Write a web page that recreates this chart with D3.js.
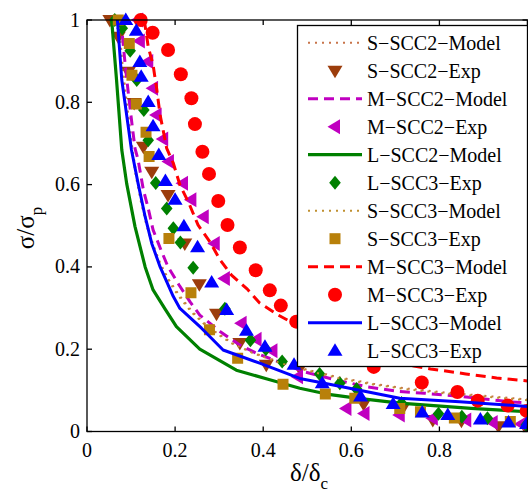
<!DOCTYPE html>
<html>
<head>
<meta charset="utf-8">
<script src="https://cdn.jsdelivr.net/npm/d3@7"></script>
<style>
  body { margin: 0; background: #fff; }
  svg { display: block; }
  svg text { font-family: "Times New Roman", Times, "Liberation Serif", "DejaVu Serif", "Noto Serif", serif; }
</style>
</head>
<body>
<svg width="528" height="493"></svg>
<script>
// ---- data (x = delta/delta_c, y = sigma/sigma_p) ----
const xTicks = [0, 0.2, 0.4, 0.6, 0.8];
const yTicks = [0, 0.2, 0.4, 0.6, 0.8, 1];

// model curves
const sScc2ModelX = [0.072,0.080,0.088,0.096,0.104,0.113,0.124,0.136,0.150,0.166,0.185,0.21,0.24,0.28,0.33,0.38,0.44,0.50,0.57,0.65,0.73,0.82,0.91,1.0];
const sScc2ModelY = [1.0,0.90,0.82,0.75,0.68,0.62,0.56,0.505,0.455,0.41,0.37,0.33,0.29,0.25,0.215,0.19,0.168,0.15,0.132,0.116,0.104,0.094,0.086,0.078];
const mScc2ModelX = [0.077,0.086,0.093,0.101,0.109,0.116,0.128,0.139,0.150,0.168,0.184,0.209,0.234,0.256,0.302,0.347,0.385,0.438,0.49,0.566,0.634,0.710,0.766,0.850,0.963,1.0];
const mScc2ModelY = [1.0,0.899,0.830,0.757,0.688,0.660,0.587,0.542,0.490,0.441,0.400,0.356,0.315,0.283,0.243,0.210,0.190,0.168,0.146,0.125,0.109,0.097,0.093,0.085,0.072,0.070];
const lScc2ModelX = [0.056,0.067,0.079,0.090,0.109,0.132,0.150,0.177,0.203,0.256,0.339,0.411,0.483,0.544,0.612,0.710,0.872,1.0];
const lScc2ModelY = [1.0,0.855,0.684,0.603,0.498,0.400,0.344,0.298,0.255,0.200,0.149,0.127,0.105,0.091,0.081,0.069,0.056,0.048];
const sScc3ModelX = [0.070,0.078,0.086,0.094,0.102,0.111,0.122,0.134,0.148,0.164,0.183,0.207,0.237,0.277,0.327,0.378,0.44,0.50,0.57,0.65,0.73,0.82,0.91,1.0];
const sScc3ModelY = [1.0,0.90,0.82,0.75,0.68,0.62,0.56,0.505,0.455,0.41,0.37,0.33,0.29,0.25,0.215,0.19,0.166,0.148,0.130,0.114,0.102,0.092,0.084,0.076];
const mScc3ModelX = [0.130,0.139,0.150,0.158,0.166,0.181,0.196,0.211,0.230,0.252,0.279,0.302,0.328,0.364,0.392,0.434,0.50,0.58,0.65,0.72,0.78,0.86,0.93,1.0];
const mScc3ModelY = [1.0,0.935,0.891,0.834,0.769,0.688,0.652,0.599,0.558,0.502,0.461,0.417,0.380,0.346,0.312,0.283,0.245,0.205,0.180,0.163,0.152,0.140,0.130,0.123];
const lScc3ModelX = [0.069,0.079,0.101,0.116,0.132,0.147,0.166,0.196,0.211,0.260,0.309,0.392,0.483,0.536,0.710,0.846,1.0];
const lScc3ModelY = [1.0,0.854,0.684,0.603,0.522,0.457,0.400,0.328,0.299,0.251,0.198,0.166,0.129,0.118,0.081,0.072,0.061];

// experiment points
const sScc2ExpX = [0.052,0.071,0.094,0.107,0.128,0.147,0.184,0.222,0.255,0.294,0.347,0.407,0.483,0.628,0.714,0.785,0.850,0.934,0.995];
const sScc2ExpY = [1.0,0.959,0.874,0.798,0.692,0.631,0.575,0.457,0.358,0.286,0.215,0.162,0.154,0.067,0.052,0.028,0.026,0.013,0.011];
const mScc2ExpX = [0.116,0.120,0.139,0.150,0.158,0.173,0.186,0.218,0.237,0.265,0.290,0.313,0.351,0.385,0.421,0.479,0.589,0.630,0.710,0.785,0.861,0.921,0.986];
const mScc2ExpY = [1.0,0.949,0.899,0.834,0.769,0.711,0.656,0.603,0.563,0.522,0.457,0.372,0.263,0.224,0.196,0.133,0.056,0.044,0.040,0.032,0.028,0.022,0.018];
const lScc3DiamondX = [0.063,0.080,0.098,0.113,0.129,0.139,0.156,0.181,0.196,0.212,0.241,0.313,0.371,0.406,0.443,0.528,0.574,0.612,0.714,0.798,0.851,0.909,0.997];
const lScc3DiamondY = [1.0,0.980,0.925,0.854,0.781,0.708,0.604,0.542,0.494,0.459,0.398,0.298,0.222,0.200,0.170,0.140,0.117,0.103,0.069,0.043,0.036,0.032,0.016];
const sScc3ExpX = [0.071,0.096,0.102,0.112,0.134,0.141,0.186,0.236,0.278,0.342,0.445,0.541,0.608,0.710,0.757,0.834,0.961];
const sScc3ExpY = [1.0,0.943,0.866,0.796,0.727,0.668,0.469,0.337,0.247,0.178,0.115,0.091,0.081,0.056,0.048,0.033,0.024];
const mScc3ExpX = [0.122,0.149,0.184,0.213,0.237,0.245,0.262,0.277,0.298,0.319,0.347,0.383,0.415,0.440,0.475,0.56,0.651,0.760,0.841,0.887,0.955,0.998];
const mScc3ExpY = [1.0,0.969,0.927,0.868,0.810,0.747,0.680,0.626,0.560,0.502,0.447,0.392,0.343,0.306,0.267,0.21,0.157,0.119,0.096,0.075,0.063,0.050];
const lScc3ExpX = [0.088,0.112,0.120,0.123,0.139,0.150,0.163,0.178,0.200,0.220,0.251,0.283,0.317,0.362,0.404,0.470,0.534,0.621,0.695,0.761,0.819,0.893,0.957,0.998];
const lScc3ExpY = [1.0,0.974,0.898,0.862,0.801,0.742,0.672,0.609,0.563,0.499,0.448,0.362,0.295,0.245,0.206,0.162,0.117,0.085,0.067,0.046,0.040,0.029,0.022,0.018];

const zip = (xs, ys) => xs.map((x, i) => [x, ys[i]]);

// series in legend order (drawing order too)
const series = [
  {name: 'S\u2212SCC2\u2212Model', kind: 'line', data: zip(sScc2ModelX, sScc2ModelY), color: '#c8744a', width: 2, dash: '2,5'},
  {name: 'S\u2212SCC2\u2212Exp',   kind: 'mark', data: zip(sScc2ExpX, sScc2ExpY), color: '#9c3d0c', marker: 'down'},
  {name: 'M\u2212SCC2\u2212Model', kind: 'line', data: zip(mScc2ModelX, mScc2ModelY), color: '#c000c0', width: 3, dash: '10,6'},
  {name: 'M\u2212SCC2\u2212Exp',   kind: 'mark', data: zip(mScc2ExpX, mScc2ExpY), color: '#c000c0', marker: 'left'},
  {name: 'L\u2212SCC2\u2212Model', kind: 'line', data: zip(lScc2ModelX, lScc2ModelY), color: '#008000', width: 3.2, dash: null},
  {name: 'L\u2212SCC3\u2212Exp',   kind: 'mark', data: zip(lScc3DiamondX, lScc3DiamondY), color: '#008000', marker: 'diamond'},
  {name: 'S\u2212SCC3\u2212Model', kind: 'line', data: zip(sScc3ModelX, sScc3ModelY), color: '#c09030', width: 2, dash: '2,5'},
  {name: 'S\u2212SCC3\u2212Exp',   kind: 'mark', data: zip(sScc3ExpX, sScc3ExpY), color: '#b8800a', marker: 'square'},
  {name: 'M\u2212SCC3\u2212Model', kind: 'line', data: zip(mScc3ModelX, mScc3ModelY), color: '#ff0000', width: 3, dash: '10,6'},
  {name: 'M\u2212SCC3\u2212Exp',   kind: 'mark', data: zip(mScc3ExpX, mScc3ExpY), color: '#ff0000', marker: 'circle'},
  {name: 'L\u2212SCC3\u2212Model', kind: 'line', data: zip(lScc3ModelX, lScc3ModelY), color: '#0000ff', width: 3, dash: null},
  {name: 'L\u2212SCC3\u2212Exp',   kind: 'mark', data: zip(lScc3ExpX, lScc3ExpY), color: '#0000ff', marker: 'up'}
];

const svg = d3.select('svg');
const mLeft = 87, mRight = 527.5, mTop = 20, mBottom = 431.5;

const x = d3.scaleLinear().domain([0, 1]).range([mLeft, mRight]);
const y = d3.scaleLinear().domain([0, 1]).range([mBottom, mTop]);

// marker shapes
function markerPath(type) {
  switch (type) {
    case 'circle':  return 'M7,0A7,7 0 1,1 -7,0A7,7 0 1,1 7,0Z';
    case 'square':  return 'M-5.5,-5.5H5.5V5.5H-5.5Z';
    case 'diamond': return 'M0,-7L5.8,0L0,7L-5.8,0Z';
    case 'up':      return 'M0,-7.5L7.5,5L-7.5,5Z';
    case 'down':    return 'M0,7.5L7.5,-5L-7.5,-5Z';
    case 'left':    return 'M-7.5,0L5,-7.5L5,7.5Z';
  }
}

svg.append('clipPath').attr('id', 'plotclip')
  .append('rect').attr('x', mLeft).attr('y', mTop - 10).attr('width', mRight - mLeft + 10).attr('height', mBottom - mTop + 10);

const plot = svg.append('g').attr('clip-path', 'url(#plotclip)');
const line = d3.line().x(d => x(d[0])).y(d => y(d[1]));

series.forEach(s => {
  if (s.kind === 'line') {
    plot.append('path')
      .datum(s.data)
      .attr('d', line)
      .attr('fill', 'none')
      .attr('stroke', s.color)
      .attr('stroke-width', s.width)
      .attr('stroke-dasharray', s.dash)
      .attr('stroke-linejoin', 'round');
  } else {
    plot.append('g').selectAll('path')
      .data(s.data)
      .enter()
      .append('path')
      .attr('d', markerPath(s.marker))
      .attr('transform', d => 'translate(' + x(d[0]) + ',' + y(d[1]) + ')')
      .attr('fill', s.color);
  }
});

// axes box with inward ticks
const axes = svg.append('g').attr('stroke', '#000').attr('stroke-width', 1.3);
axes.append('rect').attr('x', mLeft).attr('y', mTop).attr('width', mRight - mLeft).attr('height', mBottom - mTop).attr('fill', 'none');
xTicks.concat([1]).forEach(v => {
  axes.append('line').attr('x1', x(v)).attr('x2', x(v)).attr('y1', mBottom).attr('y2', mBottom - 5);
  axes.append('line').attr('x1', x(v)).attr('x2', x(v)).attr('y1', mTop).attr('y2', mTop + 5);
});
yTicks.forEach(v => {
  axes.append('line').attr('x1', mLeft).attr('x2', mLeft + 5).attr('y1', y(v)).attr('y2', y(v));
  axes.append('line').attr('x1', mRight).attr('x2', mRight - 5).attr('y1', y(v)).attr('y2', y(v));
});

// tick labels
svg.append('g').selectAll('text')
  .data(xTicks).enter().append('text')
  .attr('x', d => x(d)).attr('y', 456.5)
  .attr('text-anchor', 'middle')
  .attr('font-size', 20)
  .text(d => d3.format('~g')(d));

svg.append('g').selectAll('text')
  .data(yTicks).enter().append('text')
  .attr('x', 80).attr('y', d => y(d) + 6.5)
  .attr('text-anchor', 'end')
  .attr('font-size', 20)
  .text(d => d3.format('~g')(d));

// axis titles
const xt = svg.append('text').attr('x', 309).attr('y', 481).attr('text-anchor', 'middle').attr('font-size', 25);
xt.append('tspan').text('\u03b4/\u03b4');
xt.append('tspan').attr('dy', 8).attr('font-size', 17).text('c');

const yt = svg.append('text').attr('transform', 'translate(34,228) rotate(-90)').attr('text-anchor', 'middle').attr('font-size', 25);
yt.append('tspan').text('\u03c3/\u03c3');
yt.append('tspan').attr('dy', 8).attr('font-size', 17).text('p');

// legend
const legend = svg.append('g');
legend.append('rect')
  .attr('x', 297.5).attr('y', 25.5).attr('width', mRight - 297.5).attr('height', 341)
  .attr('fill', '#fff').attr('stroke', '#000').attr('stroke-width', 1.3);

series.forEach((s, i) => {
  const cy = 42.7 + i * 28;
  const row = legend.append('g');
  if (s.kind === 'line') {
    row.append('line')
      .attr('x1', 308).attr('x2', 362).attr('y1', cy).attr('y2', cy)
      .attr('stroke', s.color).attr('stroke-width', s.width)
      .attr('stroke-dasharray', s.dash);
  } else {
    row.append('path')
      .attr('d', markerPath(s.marker))
      .attr('transform', 'translate(335,' + cy + ')')
      .attr('fill', s.color);
  }
  row.append('text')
    .attr('x', 367).attr('y', cy + 7)
    .attr('font-size', 20)
    .text(s.name);
});
</script>
</body>
</html>
